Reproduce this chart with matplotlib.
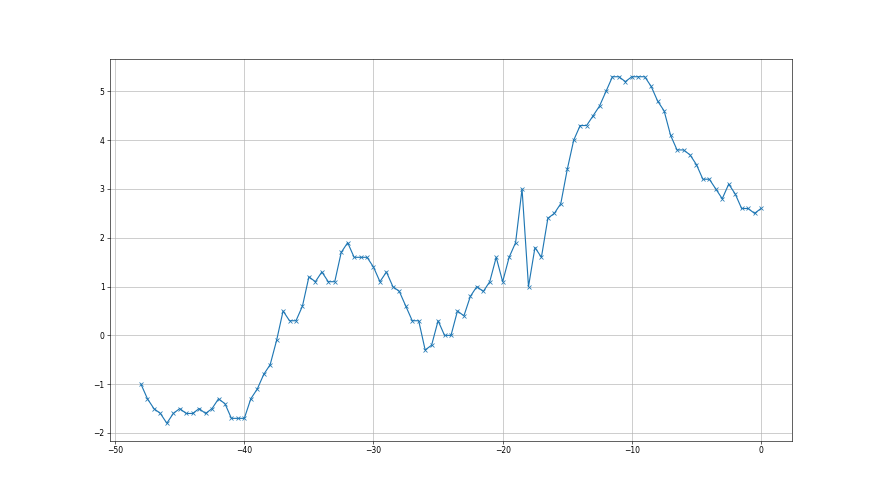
import matplotlib
matplotlib.use("Agg")
import matplotlib.pyplot as plt
import numpy as np

x = np.arange(-48, 0.01, 0.5)
y = [-1.0, -1.3, -1.5, -1.6, -1.8, -1.6, -1.5, -1.6, -1.6, -1.5,
     -1.6, -1.5, -1.3, -1.4, -1.7, -1.7, -1.7, -1.3, -1.1, -0.8,
     -0.6, -0.1, 0.5, 0.3, 0.3, 0.6, 1.2, 1.1, 1.3, 1.1,
     1.1, 1.7, 1.9, 1.6, 1.6, 1.6, 1.4, 1.1, 1.3, 1.0,
     0.9, 0.6, 0.3, 0.3, -0.3, -0.2, 0.3, 0.0, 0.0, 0.5,
     0.4, 0.8, 1.0, 0.9, 1.1, 1.6, 1.1, 1.6, 1.9, 3.0,
     1.0, 1.8, 1.6, 2.4, 2.5, 2.7, 3.4, 4.0, 4.3, 4.3,
     4.5, 4.7, 5.0, 5.3, 5.3, 5.2, 5.3, 5.3, 5.3, 5.1,
     4.8, 4.6, 4.1, 3.8, 3.8, 3.7, 3.5, 3.2, 3.2, 3.0,
     2.8, 3.1, 2.9, 2.6, 2.6, 2.5, 2.6]

fig, ax = plt.subplots(figsize=(16, 9), dpi=55)
ax.plot(x, y, marker='x', color='#1f77b4')
ax.grid(True)
ax.set_yticks([-2, -1, 0, 1, 2, 3, 4, 5])
fig.savefig("out.png", dpi=55)
